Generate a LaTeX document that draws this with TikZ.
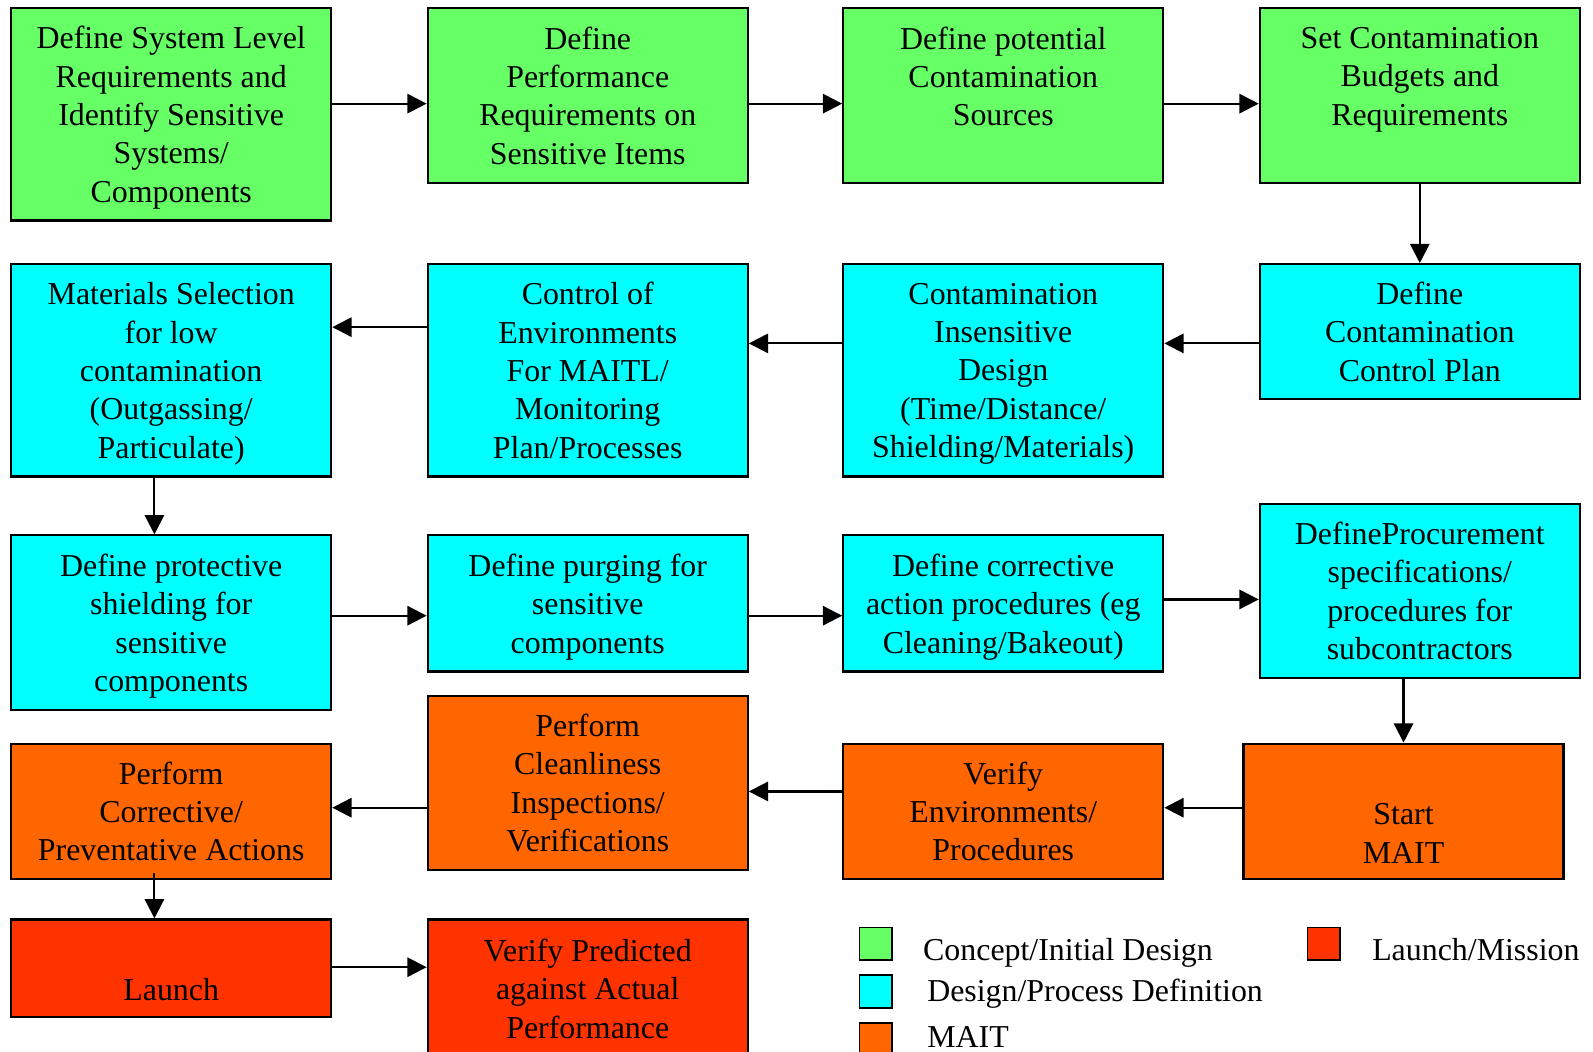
\documentclass[tikz,border=0pt]{standalone}
\usepackage{fontspec}
\setmainfont{Liberation Serif}
\usetikzlibrary{calc, positioning}
\usetikzlibrary{arrows.meta}
\definecolor{cConcept}{HTML}{66FF66}
\definecolor{cDesign}{HTML}{00FFFF}
\definecolor{cMait}{HTML}{FF6600}
\definecolor{cLaunch}{HTML}{FF3300}
\newcommand{\boxfont}{\fontsize{8.93pt}{10.75pt}\selectfont}

\begin{document}
\begin{tikzpicture}[
    box/.style={draw,line width=0.6pt,minimum width=3.15cm,inner sep=0pt,align=center,font=\boxfont,text depth=0pt},
    concept/.style={box,fill=cConcept},
    design/.style={box,fill=cDesign},
    mait/.style={box,fill=cMait},
    mission/.style={box,fill=cLaunch},
    arr/.style={-{Triangle[length=0.19cm,width=0.19cm]},line width=0.6pt},
    legsq/.style={draw,line width=0.5pt,minimum size=0.32cm,inner sep=0pt}
]
\useasboundingbox (0,0) rectangle (15.68,-10.35);
%concept row
\node[concept,minimum height=2.09cm] (nDefSys) at (1.685,-1.125) {Define System Level\\Requirements and\\Identify Sensitive\\Systems/\\Components};
\node[concept,minimum height=1.72cm] (nDefPerf) at (5.785,-0.94) {Define\\Performance\\Requirements on\\Sensitive Items};
\node[concept,minimum height=1.72cm] (nDefSrc) at (9.875,-0.94) {Define potential\\Contamination\\Sources\\\strut};
\node[concept,minimum height=1.72cm] (nSetBud) at (13.975,-0.94) {Set Contamination\\Budgets and\\Requirements\\\strut};
%design rows
\node[design,minimum height=1.33cm] (nCCPlan) at (13.975,-3.265) {Define\\Contamination\\Control Plan};
\node[design,minimum height=2.09cm] (nInsens) at (9.875,-3.645) {Contamination\\Insensitive\\Design\\(Time/Distance/\\Shielding/Materials)};
\node[design,minimum height=2.09cm] (nCtrlEnv) at (5.785,-3.645) {Control of\\Environments\\For MAITL/\\Monitoring\\Plan/Processes};
\node[design,minimum height=2.09cm] (nMatSel) at (1.685,-3.645) {Materials Selection\\for low\\contamination\\(Outgassing/\\Particulate)};
\node[design,minimum height=1.72cm] (nShield) at (1.685,-6.13) {Define protective\\shielding for\\sensitive\\components};
\node[design,minimum height=1.34cm] (nPurge) at (5.785,-5.94) {Define purging for\\sensitive\\components};
\node[design,minimum height=1.34cm] (nCorrAct) at (9.875,-5.94) {Define corrective\\action procedures (eg\\Cleaning/Bakeout)};
\node[design,minimum height=1.71cm] (nProcure) at (13.975,-5.815) {DefineProcurement\\specifications/\\procedures for\\subcontractors};
%MAIT row
\node[mait,minimum height=1.33cm] (nStart) at (13.815,-7.985) {\strut\\Start\\MAIT};
\node[mait,minimum height=1.33cm] (nVerEnv) at (9.875,-7.985) {Verify\\Environments/\\Procedures};
\node[mait,minimum height=1.71cm] (nClean) at (5.785,-7.705) {Perform\\Cleanliness\\Inspections/\\Verifications};
\node[mait,minimum height=1.33cm] (nPerfCorr) at (1.685,-7.985) {Perform\\Corrective/\\Preventative Actions};
%launch row
\node[mission,minimum height=0.96cm] (nLaunch) at (1.685,-9.53) {\strut\\Launch};
\node[mission,minimum height=1.36cm] (nVerPred) at (5.785,-9.73) {Verify Predicted\\against Actual\\Performance};

%arrow levels
\coordinate (cY1Pt) at (0,-1.02);
\coordinate (cY2Pt) at (0,-3.38);
\coordinate (cY3Pt) at (0,-3.22);
\coordinate (cY4Pt) at (0,-6.06);
\coordinate (cY5Pt) at (0,-5.90);
\coordinate (cY6Pt) at (0,-7.95);
\coordinate (cY7Pt) at (0,-7.79);
\coordinate (cY8Pt) at (0,-9.52);
\coordinate (cX1Pt) at (1.52,0);

\draw[arr] (nDefSys.east |- cY1Pt) -- (nDefPerf.west |- cY1Pt);
\draw[arr] (nDefPerf.east |- cY1Pt) -- (nDefSrc.west |- cY1Pt);
\draw[arr] (nDefSrc.east |- cY1Pt) -- (nSetBud.west |- cY1Pt);
\draw[arr] (nSetBud) -- (nCCPlan);
\draw[arr] (nCCPlan.west |- cY2Pt) -- (nInsens.east |- cY2Pt);
\draw[arr] (nInsens.west |- cY2Pt) -- (nCtrlEnv.east |- cY2Pt);
\draw[arr] (nCtrlEnv.west |- cY3Pt) -- (nMatSel.east |- cY3Pt);
\draw[arr] (nMatSel.south -| cX1Pt) -- (nShield.north -| cX1Pt);
\draw[arr] (nShield.east |- cY4Pt) -- (nPurge.west |- cY4Pt);
\draw[arr] (nPurge.east |- cY4Pt) -- (nCorrAct.west |- cY4Pt);
\draw[arr] (nCorrAct.east |- cY5Pt) -- (nProcure.west |- cY5Pt);
\draw[arr] (nProcure.south -| nStart.north) -- (nStart.north);
\draw[arr] (nStart.west |- cY6Pt) -- (nVerEnv.east |- cY6Pt);
\draw[arr] (nVerEnv.west |- cY7Pt) -- (nClean.east |- cY7Pt);
\draw[arr] (nClean.west |- cY6Pt) -- (nPerfCorr.east |- cY6Pt);
\draw[arr] ($(nPerfCorr.south -| cX1Pt)+(0,0.07)$) -- (nLaunch.north -| cX1Pt);
\draw[arr] (nLaunch.east |- cY8Pt) -- (nVerPred.west |- cY8Pt);

%legend
\foreach \n/\c/\x/\y/\tx/\ty/\t in
{nLegA/cConcept/8.62/-9.29/9.08/-9.45/{Concept/Initial Design},
    nLegB/cDesign/8.62/-9.76/9.12/-9.86/{Design/Process Definition},
    nLegC/cMait/8.62/-10.23/9.12/-10.31/{MAIT},
    nLegD/cLaunch/13.03/-9.29/13.50/-9.45/{Launch/Mission}
}
{
    \node[legsq,fill=\c] (\n) at (\x,\y) {};
    \node[anchor=base west,inner sep=0pt,font=\boxfont] (\n-t) at (\tx,\ty) {\t};
};
\end{tikzpicture}
\end{document}
